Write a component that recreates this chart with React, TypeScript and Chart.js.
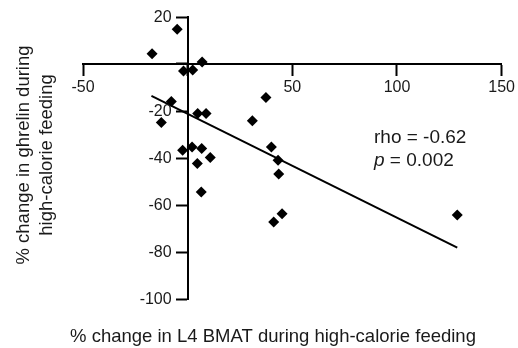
import React, { useEffect, useRef } from "react";
import { Chart, registerables } from "chart.js";

Chart.register(...registerables);

// Scatter data: % change in L4 BMAT (x) vs % change in ghrelin (y)
const bmatChange: number[] = [-17.0, -5.0, 6.9, -2.0, 2.4, -7.8, -12.6, 4.8, 8.8, 30.9, -2.4, 2.1, 6.7, 10.8, 4.6, 6.5, 37.4, 40.0, 43.2, 43.5, 41.1, 45.1, 128.8];
const ghrelinChange: number[] = [4.4, 14.8, 0.9, -3.0, -2.5, -16.0, -24.9, -21.1, -21.1, -24.1, -36.7, -35.3, -36.0, -39.8, -42.3, -54.5, -14.3, -35.3, -41.0, -46.8, -67.2, -63.7, -64.3];

// Regression line end points
const fitX: number[] = [-17.3, 128.8];
const fitY: number[] = [-13.6, -78.1];

// Axis ticks
const xTicks = { min: -50, max: 150, step: 50 };
const yTicks = { min: -100, max: 20, step: 20 };

const xTitle = "% change in L4 BMAT during high-calorie feeding";
const yTitleLines = ["% change in ghrelin during", "high-calorie feeding"];
const rhoText = "rho = -0.62";
const pLabel = "p";
const pRest = " = 0.002";

const FONT = '"Liberation Sans", Arial, Helvetica, sans-serif';
const TEXT = "#1a1a1a";
const TICK_LEN = 11;

const textPlugin = {
  id: "textPlugin",
  afterDraw(chart: any) {
    const ctx = chart.ctx as CanvasRenderingContext2D;
    const xs = chart.scales.x;
    const ys = chart.scales.y;
    ctx.save();
    ctx.fillStyle = TEXT;
    // y tick labels (left of the axis at x = 0)
    const axisX = xs.getPixelForValue(0);
    ctx.font = `16px ${FONT}`;
    ctx.textAlign = "right";
    ctx.textBaseline = "middle";
    ys.ticks.forEach((t: any) => {
      if (t.value === 0) return;
      ctx.fillText(String(t.value), axisX - TICK_LEN - 5, ys.getPixelForValue(t.value) + 1);
    });
    ctx.textBaseline = "alphabetic";
    // x title
    ctx.font = `18.5px ${FONT}`;
    ctx.textAlign = "center";
    ctx.fillText(xTitle, 273, 341.5);
    // y title
    const yb = [29, 52];
    yTitleLines.forEach((line, i) => {
      ctx.save();
      ctx.translate(yb[i], 155);
      ctx.rotate(-Math.PI / 2);
      ctx.fillText(line, 0, 0);
      ctx.restore();
    });
    // annotation
    ctx.textAlign = "left";
    ctx.font = `19px ${FONT}`;
    ctx.fillText(rhoText, 374, 142.5);
    ctx.font = `italic 19px ${FONT}`;
    ctx.fillText(pLabel, 374, 165.5);
    const w = ctx.measureText(pLabel).width;
    ctx.font = `19px ${FONT}`;
    ctx.fillText(pRest, 374 + w, 165.5);
    ctx.restore();
  },
};

export default function App() {
  const ref = useRef<HTMLCanvasElement | null>(null);

  useEffect(() => {
    if (!ref.current) return;
    const points = bmatChange.map((x, i) => ({ x, y: ghrelinChange[i] }));
    const fit = fitX.map((x, i) => ({ x, y: fitY[i] }));
    const gridCommon = {
      display: true,
      drawOnChartArea: false,
      drawTicks: true,
      tickLength: TICK_LEN,
      tickWidth: 2,
      tickColor: "#000",
    };
    const chart = new Chart(ref.current, {
      type: "scatter",
      data: {
        datasets: [
          {
            data: points,
            pointStyle: "rectRot",
            pointRadius: 5.5,
            pointBorderWidth: 0,
            backgroundColor: "#000",
            borderColor: "#000",
            showLine: false,
          },
          {
            type: "line",
            data: fit,
            borderColor: "#000",
            borderWidth: 2,
            pointRadius: 0,
            showLine: true,
            fill: false,
          } as any,
        ],
      },
      options: {
        animation: false,
        responsive: false,
        layout: { padding: { left: 83, right: 14, top: 17, bottom: 49 } },
        plugins: {
          legend: { display: false },
          tooltip: { enabled: false },
          title: { display: false },
        },
        scales: {
          x: {
            type: "linear",
            position: { y: 0 } as any,
            min: xTicks.min,
            max: xTicks.max,
            grid: gridCommon,
            border: { display: true, color: "#000", width: 2 },
            ticks: {
              stepSize: xTicks.step,
              padding: 3,
              color: TEXT,
              font: { family: FONT, size: 16 },
              maxRotation: 0,
              callback: (v: any) => (Number(v) === 0 ? "" : String(v)),
            },
          },
          y: {
            type: "linear",
            position: { x: 0 } as any,
            min: yTicks.min,
            max: yTicks.max,
            grid: gridCommon,
            border: { display: true, color: "#000", width: 2 },
            ticks: {
              stepSize: yTicks.step,
              color: TEXT,
              font: { family: FONT, size: 16 },
              callback: () => "",
            },
          },
        },
      },
      plugins: [textPlugin],
    });
    return () => chart.destroy();
  }, []);

  return (
    <div style={{ position: "absolute", left: 0, top: 0, width: 518, height: 348, background: "#fff" }}>
      <canvas ref={ref} width={518} height={348} style={{ display: "block" }} />
    </div>
  );
}
